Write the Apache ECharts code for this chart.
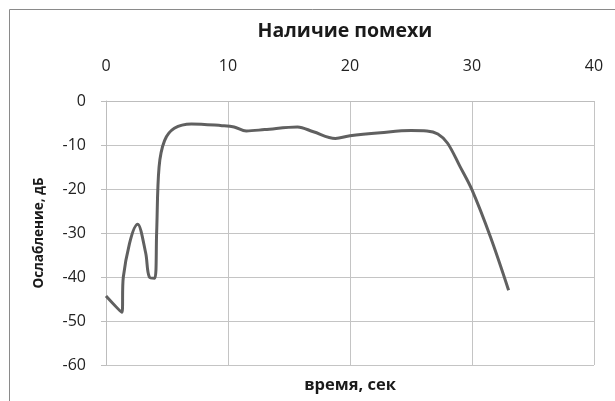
<!DOCTYPE html>
<html><head><meta charset="utf-8">
<script src="https://cdn.jsdelivr.net/npm/echarts@6/dist/echarts.min.js"></script>
<style>html,body{margin:0;padding:0;background:#fff}#c{width:615px;height:401px}</style>
</head><body><div id="c"></div>
<script>
var timeSec = [0, 1.3, 1.42, 2.6, 3.25, 3.55, 4.0, 4.15, 4.35, 4.8, 5.6, 7.0, 9.5, 10.5, 11.5, 13.0, 15.7, 17.0, 18.8, 20.0, 22.5, 25.0, 26.3, 27.2, 28.0, 29.0, 30.0, 31.5, 33.0];
var attenuation = [-44.3, -48, -40, -28, -34.5, -40, -40.3, -30, -15, -9, -6.2, -5.2, -5.6, -5.9, -6.8, -6.5, -5.9, -7, -8.5, -7.9, -7.2, -6.7, -6.8, -7.5, -9.6, -14.8, -20.2, -30.8, -43];
var xTicks = [0, 10, 20, 30, 40];
var yTicks = [0, -10, -20, -30, -40, -50, -60];
var titleText = 'Наличие помехи';
var xName = 'время, сек';
var yName = 'Ослабление, дБ';

var data = timeSec.map(function (t, i) { return [t, attenuation[i]]; });
var font = '"Open Sans", "Noto Sans", sans-serif';
var chart = echarts.init(document.getElementById('c'));
chart.setOption({
  animation: false,
  backgroundColor: '#fff',
  title: { text: titleText, left: 340, top: 16, textAlign: 'center',
    textStyle: { fontFamily: font, fontSize: 19.5, fontWeight: 'bold', color: '#1a1a1a' } },
  grid: { left: 106, right: 21, top: 101, bottom: 36 },
  xAxis: {
    type: 'value', position: 'top', min: xTicks[0], max: xTicks[xTicks.length - 1], interval: 10,
    axisLine: { show: true, lineStyle: { color: '#bdbdbd' } },
    axisTick: { show: false },
    axisLabel: { margin: 27, fontFamily: font, fontSize: 16, color: '#222' },
    splitLine: { show: true, lineStyle: { color: '#c4c4c4', width: 1 } }
  },
  yAxis: {
    type: 'value', min: yTicks[yTicks.length - 1], max: yTicks[0], interval: 10,
    name: yName, nameLocation: 'middle', nameGap: 60, nameRotate: 90,
    nameTextStyle: { fontFamily: font, fontSize: 13.5, fontWeight: 'bold', color: '#1a1a1a' },
    axisLine: { show: true, onZero: false, lineStyle: { color: '#bdbdbd' } },
    axisTick: { show: true, inside: false, length: 5, lineStyle: { color: '#bdbdbd' } },
    axisLabel: { margin: 20, fontFamily: font, fontSize: 16, color: '#222' },
    splitLine: { show: true, lineStyle: { color: '#c4c4c4', width: 1 } }
  },
  graphic: [
    { type: 'rect', silent: true, shape: { x: 9.5, y: 9.5, width: 700, height: 500 },
      style: { fill: 'none', stroke: '#8a8a8a', lineWidth: 1 } },
    { type: 'text', x: 350, y: 385,
      style: { text: xName, fontFamily: font, fontSize: 16.5, fontWeight: 'bold', fill: '#1a1a1a',
        align: 'center', verticalAlign: 'middle' } }
  ],
  series: [{
    type: 'line', data: data, smooth: 0.35, showSymbol: false,
    lineStyle: { color: '#606060', width: 3 }
  }]
});
</script></body></html>
